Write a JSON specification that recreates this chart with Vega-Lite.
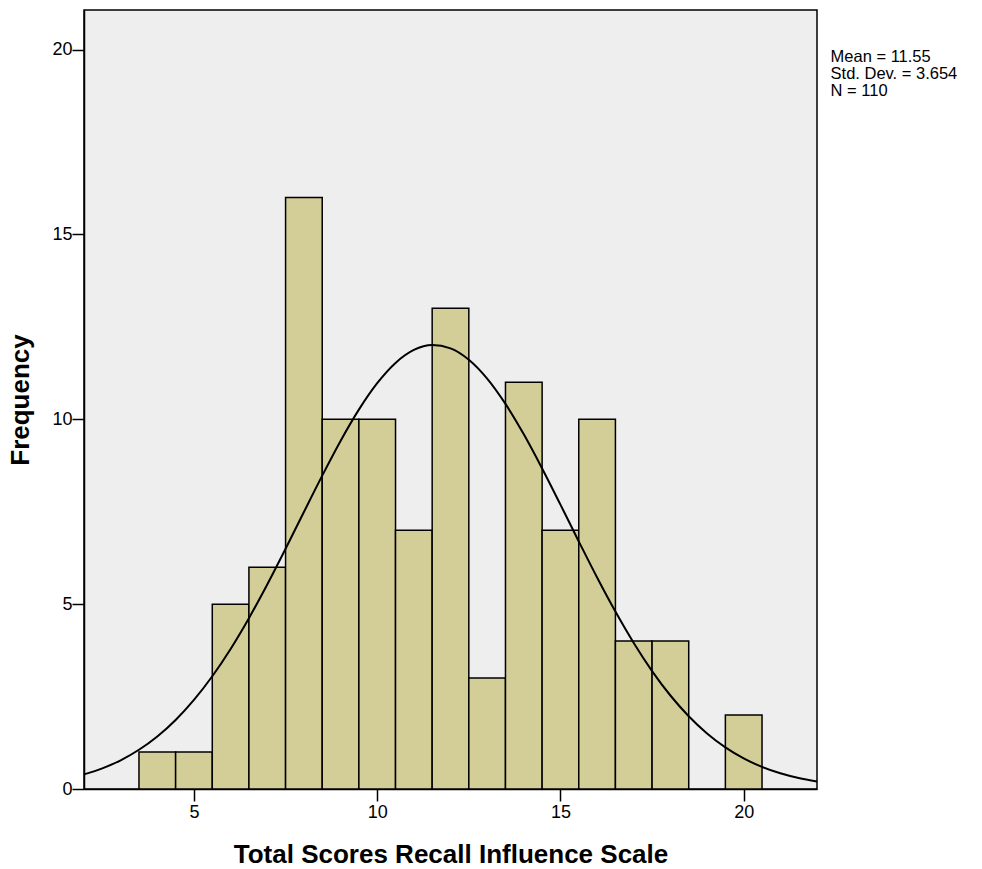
{
  "$schema": "https://vega.github.io/schema/vega-lite/v6.json",
  "autosize": "none",
  "width": 733,
  "height": 779,
  "padding": {"left": 84, "top": 10, "right": 165, "bottom": 80},
  "background": "white",
  "config": {
    "view": {"stroke": "#000000", "strokeWidth": 1.5, "fill": "#EEEEEE"},
    "font": "Liberation Sans",
    "axis": {"labelFont": "Liberation Sans", "titleFont": "Liberation Sans", "labelColor": "#000", "titleColor": "#000", "domainColor": "#000", "tickColor": "#000", "grid": false}
  },
  "datasets": {
    "bars": [
      {"lo": 3.5, "hi": 4.5, "count": 1},
      {"lo": 4.5, "hi": 5.5, "count": 1},
      {"lo": 5.5, "hi": 6.5, "count": 5},
      {"lo": 6.5, "hi": 7.5, "count": 6},
      {"lo": 7.5, "hi": 8.5, "count": 16},
      {"lo": 8.5, "hi": 9.5, "count": 10},
      {"lo": 9.5, "hi": 10.5, "count": 10},
      {"lo": 10.5, "hi": 11.5, "count": 7},
      {"lo": 11.5, "hi": 12.5, "count": 13},
      {"lo": 12.5, "hi": 13.5, "count": 3},
      {"lo": 13.5, "hi": 14.5, "count": 11},
      {"lo": 14.5, "hi": 15.5, "count": 7},
      {"lo": 15.5, "hi": 16.5, "count": 10},
      {"lo": 16.5, "hi": 17.5, "count": 4},
      {"lo": 17.5, "hi": 18.5, "count": 4},
      {"lo": 19.5, "hi": 20.5, "count": 2}
    ],
    "curve": [
      {"x": 2, "y": 0.395}, {"x": 2.5, "y": 0.559}, {"x": 3, "y": 0.777}, {"x": 3.5, "y": 1.061},
      {"x": 4, "y": 1.421}, {"x": 4.5, "y": 1.867}, {"x": 5, "y": 2.409}, {"x": 5.5, "y": 3.05},
      {"x": 6, "y": 3.789}, {"x": 6.5, "y": 4.621}, {"x": 7, "y": 5.532}, {"x": 7.5, "y": 6.498},
      {"x": 8, "y": 7.492}, {"x": 8.5, "y": 8.477}, {"x": 9, "y": 9.415}, {"x": 9.5, "y": 10.261},
      {"x": 10, "y": 10.976}, {"x": 10.5, "y": 11.524}, {"x": 11, "y": 11.875}, {"x": 11.5, "y": 12.009},
      {"x": 12, "y": 11.919}, {"x": 12.5, "y": 11.611}, {"x": 13, "y": 11.101}, {"x": 13.5, "y": 10.416},
      {"x": 14, "y": 9.592}, {"x": 14.5, "y": 8.669}, {"x": 15, "y": 7.691}, {"x": 15.5, "y": 6.696},
      {"x": 16, "y": 5.721}, {"x": 16.5, "y": 4.798}, {"x": 17, "y": 3.949}, {"x": 17.5, "y": 3.19},
      {"x": 18, "y": 2.529}, {"x": 18.5, "y": 1.968}, {"x": 19, "y": 1.503}, {"x": 19.5, "y": 1.126},
      {"x": 20, "y": 0.828}, {"x": 20.5, "y": 0.598}, {"x": 21, "y": 0.424}, {"x": 21.5, "y": 0.295},
      {"x": 22, "y": 0.201}
    ],
    "stats": [
      {"x": 22.37, "y": 19.79, "label": "Mean = 11.55"},
      {"x": 22.37, "y": 19.33, "label": "Std. Dev. = 3.654"},
      {"x": 22.37, "y": 18.87, "label": "N = 110"}
    ]
  },
  "layer": [
    {
      "data": {"name": "bars"},
      "mark": {"type": "rect", "fill": "#D3CE97", "stroke": "#000000", "strokeWidth": 1.5},
      "encoding": {
        "x": {
          "field": "lo", "type": "quantitative",
          "scale": {"domain": [2, 22], "nice": false, "zero": false},
          "axis": {"values": [5, 10, 15, 20], "title": "Total Scores Recall Influence Scale", "titleFontSize": 26, "titleFontWeight": "bold", "labelFontSize": 18, "tickSize": 12, "tickWidth": 1.5, "domainWidth": 1.5, "labelPadding": 2, "titlePadding": 20}
        },
        "x2": {"field": "hi"},
        "y": {
          "field": "count", "type": "quantitative",
          "scale": {"domain": [0, 21.07], "nice": false},
          "axis": {"values": [0, 5, 10, 15, 20], "title": "Frequency", "titleFontSize": 26, "titleFontWeight": "bold", "labelFontSize": 18, "tickSize": 12, "tickWidth": 1.5, "domainWidth": 1.5, "labelPadding": 0, "titlePadding": 18}
        },
        "y2": {"datum": 0}
      }
    },
    {
      "data": {"name": "curve"},
      "mark": {"type": "line", "color": "#000000", "strokeWidth": 2, "interpolate": "monotone"},
      "encoding": {
        "x": {"field": "x", "type": "quantitative"},
        "y": {"field": "y", "type": "quantitative"}
      }
    },
    {
      "data": {"name": "stats"},
      "mark": {"type": "text", "align": "left", "baseline": "middle", "fontSize": 16.5, "font": "Liberation Sans", "color": "#000000", "clip": false},
      "encoding": {
        "x": {"field": "x", "type": "quantitative"},
        "y": {"field": "y", "type": "quantitative"},
        "text": {"field": "label"}
      }
    }
  ]
}
